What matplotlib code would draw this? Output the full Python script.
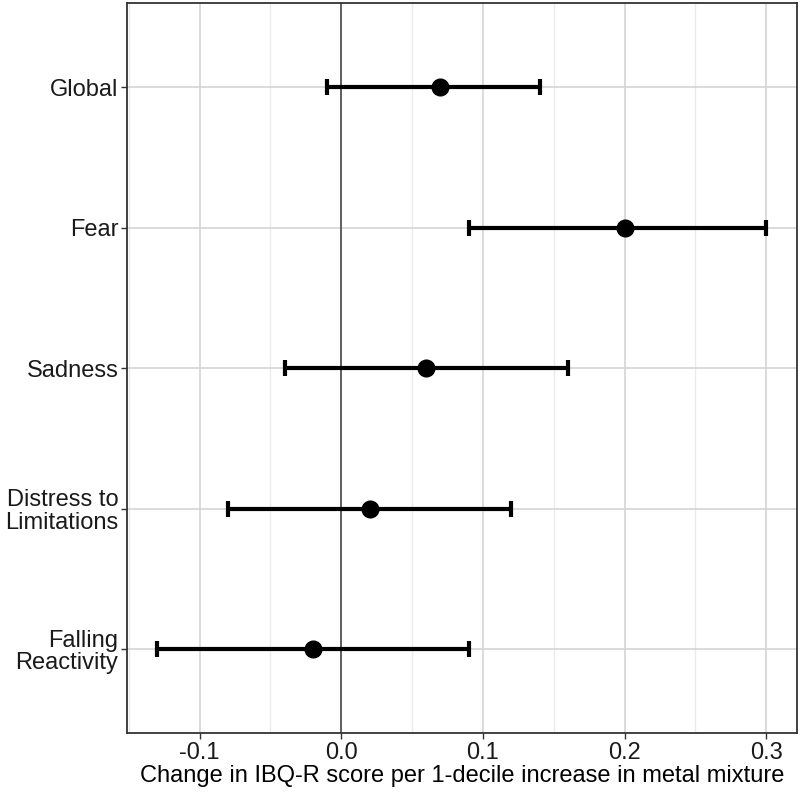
import numpy as np
import matplotlib.pyplot as plt
from matplotlib.ticker import MultipleLocator

# Estimates (change per 1-decile increase)
outcomes = ["Global", "Fear", "Sadness", "Distress to\nLimitations", "Falling\nReactivity"]
estimate = [0.07, 0.20, 0.06, 0.02, -0.02]
ci_low = [-0.01, 0.09, -0.04, -0.08, -0.13]
ci_high = [0.14, 0.30, 0.16, 0.12, 0.09]

plt.rcParams['font.family'] = ['Liberation Sans', 'DejaVu Sans']

fig = plt.figure(figsize=(8, 7.94), dpi=100)
ax = fig.add_axes([0.1584, 0.0764, 0.8375, 0.9202])

# top-to-bottom order like the reference
ypos = np.arange(len(outcomes))[::-1] + 1
est = np.array(estimate)
lo = np.array(ci_low)
hi = np.array(ci_high)

ax.axvline(0, color='#555555', lw=1.3, zorder=1)
ax.errorbar(est, ypos, xerr=[est - lo, hi - est], fmt='o', color='black',
            ecolor='black', elinewidth=3, capsize=6, capthick=3,
            markersize=12, zorder=3)

ax.set_xlim(-0.1515, 0.3215)
ax.set_ylim(0.4, 5.6)
ax.set_yticks(ypos)
ax.set_yticklabels(outcomes, fontsize=17, color='#1a1a1a', linespacing=1.05)
ax.xaxis.set_minor_locator(MultipleLocator(0.05))
ax.set_xticks([-0.1, 0.0, 0.1, 0.2, 0.3])
ax.set_xticklabels(['-0.1', '0.0', '0.1', '0.2', '0.3'], fontsize=17, color='#1a1a1a')
ax.set_xlabel('Change in IBQ-R score per 1-decile increase in metal mixture',
              fontsize=17, color='black', labelpad=1)

ax.grid(True, which='major', color='#d4d4d4', lw=1.2, zorder=0)
ax.grid(True, which='minor', axis='x', color='#ebebeb', lw=1.0, zorder=0)
ax.set_axisbelow(True)
ax.tick_params(axis='both', which='major', length=4, width=1, color='#333333', pad=2)
ax.tick_params(axis='x', which='minor', length=0)
for s in ax.spines.values():
    s.set_color('#333333')
    s.set_linewidth(1.3)

fig.savefig('out.png', dpi=100)
